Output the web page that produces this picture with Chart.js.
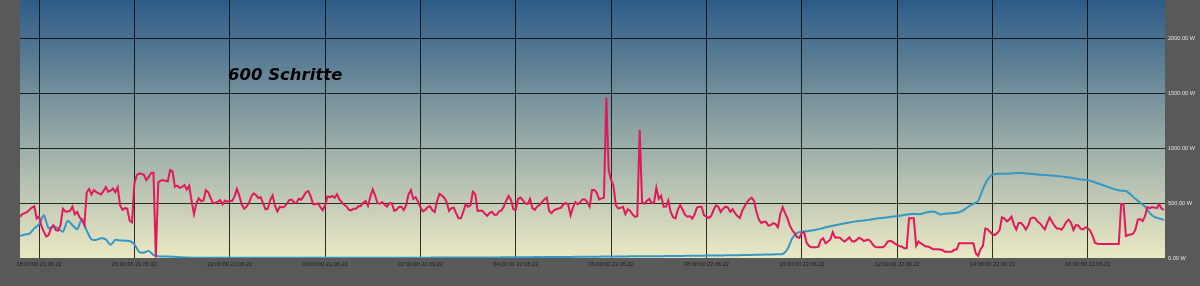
<!DOCTYPE html>
<html>
<head>
<meta charset="utf-8">
<script src="https://cdn.jsdelivr.net/npm/chart.js@4/dist/chart.umd.min.js"></script>
<style>
  html, body { margin: 0; padding: 0; background: #595959; }
  canvas { display: block; }
</style>
</head>
<body>
<canvas id="power-chart" width="1200" height="286"></canvas>
<script>
// time axis in hours since 18:00 21.06.22
const START_HOUR = -0.4;
const PINK_STEP = 0.05; // 3 min
const BLUE_STEP = 0.1;  // 6 min

const xTickHours = [0, 2, 4, 6, 8, 10, 12, 14, 16, 18, 20, 22];
const xTickLabels = [
  '18:00:00 21.06.22', '20:00:00 21.06.22', '22:00:00 21.06.22',
  '00:00:00 22.06.22', '02:00:00 22.06.22', '04:00:00 22.06.22',
  '06:00:00 22.06.22', '08:00:00 22.06.22', '10:00:00 22.06.22',
  '12:00:00 22.06.22', '14:00:00 22.06.22', '16:00:00 22.06.22'
];
const yTickValues = [0, 500, 1000, 1500, 2000];

// consumption (W)
const pinkW = [
  377,400,410,420,440,460,472,360,380,290,
  240,195,210,270,300,255,250,300,450,425,
  425,430,470,400,420,370,350,300,600,630,
  580,620,600,590,580,610,648,605,615,635,
  600,645,480,440,455,450,340,325,680,755,
  772,768,760,711,740,775,778,5,690,705,
  711,705,700,802,790,650,660,640,650,665,
  625,660,520,400,500,545,520,525,620,600,
  545,499,505,515,529,490,525,515,522,520,
  560,630,570,490,450,468,500,560,590,575,
  548,555,499,445,450,530,572,475,425,468,
  462,470,497,529,534,505,505,540,532,565,
  600,610,560,490,490,500,465,436,480,562,
  556,566,550,582,535,510,485,470,440,435,
  450,450,472,475,505,520,475,560,626,570,
  500,495,510,485,470,500,500,432,440,465,
  468,438,480,580,620,540,555,515,465,425,
  438,462,474,435,420,520,585,570,550,510,
  430,455,460,407,362,362,422,490,468,480,
  605,585,430,432,432,405,385,410,422,395,
  395,425,435,470,525,565,530,445,440,540,
  552,525,499,494,540,455,440,470,483,510,
  535,552,430,410,435,445,452,460,490,502,
  490,390,460,510,490,510,535,535,510,470,
  620,620,595,535,544,550,1465,800,710,660,
  480,453,458,467,400,445,430,398,375,383,
  1167,510,495,520,540,502,505,640,540,570,
  468,470,525,420,372,362,440,483,440,395,
  377,382,360,395,460,468,468,390,378,365,
  385,438,480,468,420,450,468,460,422,445,
  410,383,365,430,470,508,535,550,520,420,
  350,320,330,330,295,300,318,310,280,401,
  465,410,362,295,255,225,190,185,230,235,
  140,110,97,97,97,104,165,180,134,150,
  170,235,188,188,185,164,150,168,188,155,
  149,165,185,175,155,162,168,150,115,100,
  97,97,97,115,149,156,149,134,120,106,
  105,88,88,362,362,362,110,150,134,120,
  104,104,95,79,79,79,78,73,58,58,
  58,58,75,79,134,134,134,134,134,134,
  134,43,20,80,110,268,262,240,218,210,
  228,255,370,362,335,350,377,305,260,320,
  320,295,260,295,360,370,362,331,315,286,
  262,320,370,330,295,270,270,258,290,330,
  350,320,255,301,298,268,261,280,270,250,
  205,140,130,128,128,128,128,128,128,128,
  128,128,492,492,200,210,215,222,260,350,
  355,338,380,465,455,465,460,455,490,450,440
];

// pv production (W)
const blueW = [
  200,215,222,270,310,390,270,290,270,240,
  340,300,262,355,250,170,165,180,170,120,
  165,160,158,155,125,55,50,65,28,15,
  14,14,12,9,6,4,3,2,3,3,
  3,3,3,3,3,3,3,3,3,3,
  3,3,3,3,3,3,3,3,3,3,
  3,3,3,3,3,3,3,3,3,3,
  3,3,3,3,3,3,3,3,3,3,
  3,3,3,3,3,3,3,4,4,4,
  4,4,4,4,5,5,5,5,5,5,
  5,6,6,6,6,7,7,7,8,8,
  8,9,9,9,10,10,10,11,11,12,
  12,12,13,13,13,14,14,14,15,15,
  16,16,16,17,17,17,18,18,19,19,
  20,20,21,21,22,22,23,23,24,24,
  25,26,27,28,29,30,31,32,33,34,
  36,80,180,230,238,245,250,258,268,280,
  290,298,308,316,325,332,338,343,348,355,
  362,367,372,379,383,388,398,401,401,401,
  415,423,420,398,403,408,410,418,440,470,
  495,520,630,715,762,768,768,770,772,775,
  776,772,768,765,760,757,754,750,746,742,
  735,728,720,715,711,698,682,668,652,638,
  623,614,612,580,540,505,470,410,375,360,348
];

const toPoints = (values, step) => values.map((v, i) => ({ x: START_HOUR + i * step, y: v }));

// gradient behind the plot
const skyBackground = {
  id: 'skyBackground',
  beforeDraw(chart) {
    const { ctx, chartArea: a } = chart;
    const g = ctx.createLinearGradient(0, a.top, 0, a.bottom);
    g.addColorStop(0, '#2d5b87');
    g.addColorStop(0.5, '#8ea4a4');
    g.addColorStop(1, '#ebe9c4');
    ctx.save();
    ctx.fillStyle = g;
    ctx.fillRect(a.left, a.top, a.right - a.left, a.bottom - a.top);
    ctx.restore();
  }
};

// caption inside the plot
const caption = {
  id: 'caption',
  afterDatasetsDraw(chart) {
    const ctx = chart.ctx;
    ctx.save();
    ctx.font = 'italic bold 16.5px "DejaVu Sans"';
    ctx.fillStyle = '#000';
    ctx.textAlign = 'left';
    ctx.textBaseline = 'alphabetic';
    ctx.fillText('600 Schritte', 228, 80);
    ctx.restore();
  }
};

// no extra room for tick labels around the plot
const noPad = (scale) => {
  scale.paddingTop = 0;
  scale.paddingBottom = 0;
  scale.paddingLeft = 0;
  scale.paddingRight = 0;
};

const ctx = document.getElementById('power-chart').getContext('2d');

new Chart(ctx, {
  type: 'line',
  data: {
    datasets: [
      {
        label: 'Verbrauch',
        data: toPoints(pinkW, PINK_STEP),
        borderColor: '#e2185c',
        borderWidth: 2,
        pointRadius: 0,
        tension: 0,
        order: 1
      },
      {
        label: 'PV',
        data: toPoints(blueW, BLUE_STEP),
        borderColor: '#3597c5',
        borderWidth: 2,
        pointRadius: 0,
        tension: 0.2,
        order: 2
      }
    ]
  },
  options: {
    responsive: false,
    animation: false,
    layout: { autoPadding: false, padding: { left: 20, top: 0, right: 0, bottom: 0 } },
    plugins: {
      legend: { display: false },
      tooltip: { enabled: false }
    },
    scales: {
      x: {
        type: 'linear',
        min: START_HOUR,
        max: 23.62,
        afterBuildTicks: (scale) => { scale.ticks = xTickHours.map(v => ({ value: v })); },
        afterFit: (scale) => { scale.height = 28; noPad(scale); },
        ticks: {
          callback: (value, index) => xTickLabels[index],
          autoSkip: false,
          maxRotation: 0,
          padding: 3,
          color: '#1c1c1c',
          font: { family: 'Liberation Sans', size: 5.6 }
        },
        grid: { color: 'rgba(0,0,0,0.8)', lineWidth: 1, drawTicks: false },
        border: { display: false }
      },
      y: {
        position: 'right',
        min: 0,
        max: 2355,
        afterBuildTicks: (scale) => { scale.ticks = yTickValues.map(v => ({ value: v })); },
        afterFit: (scale) => { scale.width = 35; noPad(scale); },
        ticks: {
          callback: (value) => value.toFixed(2) + ' W',
          padding: 3,
          color: '#e4e4e4',
          font: { family: 'Liberation Sans', size: 5.6 }
        },
        grid: {
          color: (c) => c.tick && c.tick.value === 0 ? 'rgba(0,0,0,0)' : 'rgba(0,0,0,0.8)',
          lineWidth: 1,
          drawTicks: false
        },
        border: { display: false }
      }
    }
  },
  plugins: [skyBackground, caption]
});
</script>
</body>
</html>
